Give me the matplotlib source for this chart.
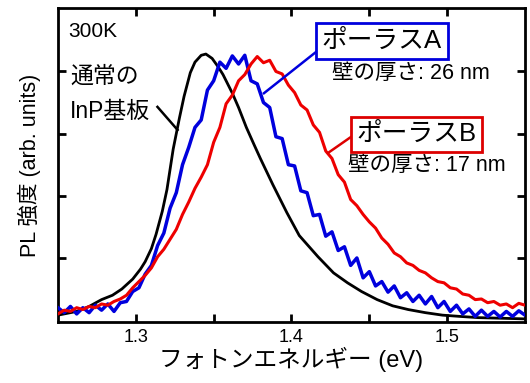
import matplotlib
matplotlib.use("Agg")
import matplotlib.pyplot as plt

plt.rcParams['font.family'] = ['Liberation Sans', 'Noto Sans CJK JP']

#---------------- data ----------------
# InP substrate (black, smooth)
e_inp = [1.250, 1.262, 1.270, 1.278, 1.285, 1.291, 1.298, 1.303, 1.306, 1.310,
         1.313, 1.317, 1.320, 1.324, 1.328, 1.331, 1.335, 1.338, 1.342, 1.345,
         1.349, 1.353, 1.356, 1.362, 1.366, 1.371, 1.376, 1.380, 1.388, 1.397,
         1.405, 1.417, 1.427, 1.436, 1.445, 1.455, 1.465, 1.475, 1.486, 1.497,
         1.508, 1.520, 1.535, 1.550]
pl_inp = [0.08, 0.14, 0.22, 0.33, 0.40, 0.50, 0.66, 0.82, 0.94, 1.15,
          1.38, 1.75, 2.10, 2.75, 3.25, 3.60, 3.98, 4.15, 4.26, 4.28,
          4.21, 4.07, 3.95, 3.65, 3.42, 3.10, 2.82, 2.60, 2.18, 1.73,
          1.36, 1.02, 0.76, 0.60, 0.46, 0.33, 0.23, 0.17, 0.12, 0.08,
          0.06, 0.04, 0.03, 0.02]

# porous samples share the same energy points
e_por = [1.250, 1.254, 1.258, 1.262, 1.266, 1.270, 1.274, 1.278, 1.282, 1.286,
         1.290, 1.294, 1.298, 1.302, 1.306, 1.310, 1.314, 1.318, 1.322, 1.326,
         1.330, 1.334, 1.338, 1.342, 1.346, 1.350, 1.354, 1.358, 1.362, 1.366,
         1.370, 1.374, 1.378, 1.382, 1.386, 1.390, 1.394, 1.398, 1.402, 1.406,
         1.410, 1.414, 1.418, 1.422, 1.426, 1.430, 1.434, 1.438, 1.442, 1.446,
         1.450, 1.454, 1.458, 1.462, 1.466, 1.470, 1.474, 1.478, 1.482, 1.486,
         1.490, 1.494, 1.498, 1.502, 1.506, 1.510, 1.514, 1.518, 1.522, 1.526,
         1.530, 1.534, 1.538, 1.542, 1.546, 1.550]
# porous A (blue, 26 nm walls)
pl_a = [0.20, 0.12, 0.22, 0.10, 0.20, 0.12, 0.24, 0.16, 0.26, 0.14,
        0.28, 0.30, 0.46, 0.52, 0.74, 0.88, 1.20, 1.40, 1.80, 2.05,
        2.50, 2.78, 3.10, 3.22, 3.70, 3.85, 4.15, 4.05, 4.25, 4.12,
        4.26, 3.85, 3.80, 3.50, 3.42, 2.95, 2.92, 2.50, 2.48, 2.08,
        2.05, 1.68, 1.70, 1.35, 1.42, 1.12, 1.18, 0.88, 1.00, 0.68,
        0.78, 0.55, 0.62, 0.45, 0.55, 0.36, 0.44, 0.30, 0.40, 0.26,
        0.38, 0.20, 0.30, 0.14, 0.24, 0.10, 0.18, 0.06, 0.16, 0.06,
        0.14, 0.05, 0.14, 0.06, 0.15, 0.08]
# porous B (red, 17 nm walls)
pl_b = [0.10, 0.16, 0.14, 0.20, 0.17, 0.22, 0.20, 0.26, 0.24, 0.30,
        0.34, 0.40, 0.52, 0.62, 0.72, 0.84, 1.02, 1.14, 1.30, 1.46,
        1.70, 1.90, 2.12, 2.30, 2.50, 2.86, 3.10, 3.48, 3.62, 3.85,
        3.95, 4.12, 4.24, 4.14, 4.18, 4.00, 3.96, 3.78, 3.66, 3.46,
        3.38, 3.14, 3.02, 2.72, 2.60, 2.34, 2.22, 1.94, 1.84, 1.70,
        1.58, 1.48, 1.32, 1.22, 1.08, 1.02, 0.92, 0.88, 0.80, 0.76,
        0.68, 0.62, 0.60, 0.52, 0.50, 0.42, 0.40, 0.33, 0.34, 0.28,
        0.30, 0.24, 0.26, 0.20, 0.27, 0.24]

x_ticks = [1.3, 1.35, 1.4, 1.45, 1.5]
x_labels = ['1.3', '', '1.4', '', '1.5']
y_ticks = [1, 2, 3, 4]

#---------------- figure ----------------
fig = plt.figure(figsize=(5.30, 3.83), dpi=100)
ax = fig.add_axes([0.1094, 0.1593, 0.8812, 0.8197])

ax.plot(e_inp, pl_inp, color='black', lw=2.0, zorder=3)
ax.plot(e_por, pl_a, color='#0000dd', lw=2.5, zorder=4)
ax.plot(e_por, pl_b, color='#ee0000', lw=2.2, zorder=5)

ax.set_xlim(1.25, 1.55)
ax.set_ylim(-0.03, 5.02)
ax.set_xticks(x_ticks)
ax.set_xticklabels(x_labels)
ax.set_yticks(y_ticks)
ax.set_yticklabels([])
ax.tick_params(direction='in', length=6, width=2, top=True, right=True,
               labelsize=13, pad=5)
for sp in ax.spines.values():
    sp.set_linewidth(2)

ax.set_xlabel('フォトンエネルギー (eV)', fontsize=17, labelpad=1)
ax.set_ylabel('PL 強度 (arb. units)', fontsize=15.5, labelpad=7)

# labels inside the plot
ax.text(0.021, 0.957, '300K', transform=ax.transAxes, fontsize=15,
        ha='left', va='top')
ax.text(0.026, 0.783, '通常の', transform=ax.transAxes, fontsize=16.5,
        ha='left', va='center')
ax.text(0.026, 0.672, 'InP基板', transform=ax.transAxes, fontsize=16.5,
        ha='left', va='center')
ax.plot([1.3139, 1.3268], [3.43, 3.06], color='black', lw=1.8, zorder=6)

# porous A label
ax.plot([1.4171, 1.3823], [4.34, 3.65], color='#0000dd', lw=1.8, zorder=6)
ax.text(1.4195, 4.49, 'ポーラスA', fontsize=18.5, ha='left', va='center',
        zorder=7,
        bbox=dict(boxstyle='square,pad=0.22', fc='white', ec='#0000dd', lw=2))
ax.text(0.587, 0.793, '壁の厚さ: 26 nm', transform=ax.transAxes, fontsize=15.5,
        ha='left', va='center')

# porous B label
ax.plot([1.4384, 1.4235], [2.95, 2.69], color='#dd0000', lw=1.8, zorder=6)
ax.text(1.4416, 2.99, 'ポーラスB', fontsize=18.5, ha='left', va='center',
        zorder=7,
        bbox=dict(boxstyle='square,pad=0.22', fc='white', ec='#dd0000', lw=2))
ax.text(0.621, 0.497, '壁の厚さ: 17 nm', transform=ax.transAxes, fontsize=15.5,
        ha='left', va='center')

fig.savefig('out.png', dpi=100)
